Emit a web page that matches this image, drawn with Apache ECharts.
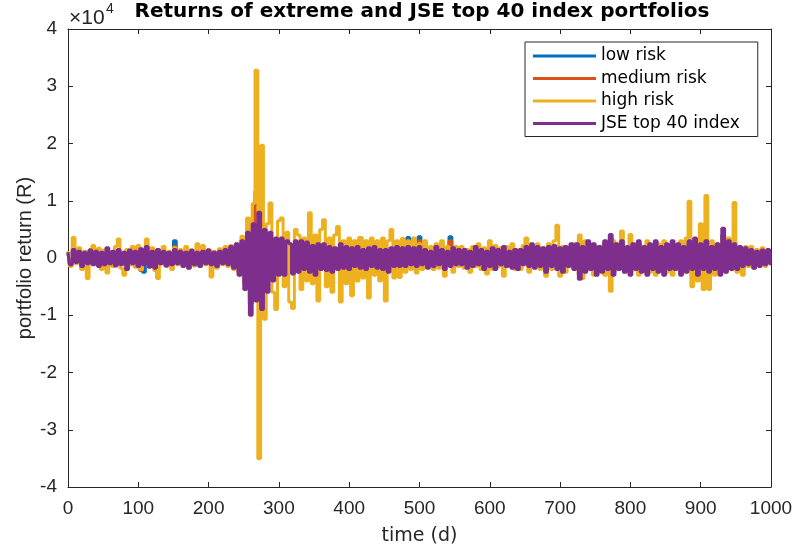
<!DOCTYPE html>
<html>
<head>
<meta charset="utf-8">
<script src="https://cdn.jsdelivr.net/npm/echarts@6/dist/echarts.min.js"></script>
<style>
html,body{margin:0;padding:0;background:#fff;}
#chart{width:799px;height:551px;}
</style>
</head>
<body>
<div id="chart"></div>
<script>
// Values are in units of 10^4 R (axis shows the x10^4 multiplier), sampled every STEP days.
const STEP = 4;
const seriesNames = ['low risk', 'medium risk', 'high risk', 'JSE top 40 index'];
const xTickValues = [0, 100, 200, 300, 400, 500, 600, 700, 800, 900, 1000];
const yTickValues = [-4, -3, -2, -1, 0, 1, 2, 3, 4];

const lowRisk = [
  0.08,-0.1,0.12,-0.06,0.1,-0.12,0.08,-0.08,0.1,-0.1,
  0.1,-0.12,0.08,-0.1,0.14,-0.08,0.1,-0.12,0.12,-0.1,
  0.08,-0.15,0.1,-0.08,0.1,-0.12,0.12,-0.25,0.15,-0.12,
  0.1,-0.15,0.12,-0.08,0.1,-0.12,0.08,-0.1,0.3,-0.08,
  0.1,-0.12,0.08,-0.15,0.12,-0.1,0.08,-0.12,0.1,-0.08,
  0.12,-0.1,0.08,-0.12,0.1,-0.08,0.12,-0.1,0.15,-0.15,
  0.2,-0.25,0.25,-0.45,0.47,-0.8,0.5,1.16,-0.66,0.4,
  -0.5,0.35,-0.3,0.3,-0.25,0.3,-0.2,0.25,-0.25,0.2,
  -0.22,0.25,-0.2,0.25,-0.15,0.22,-0.2,0.18,-0.25,0.2,
  -0.15,0.2,-0.18,0.15,-0.2,0.15,-0.15,0.2,-0.15,0.15,
  -0.15,0.15,-0.12,0.15,0.36,0.12,-0.15,0.15,-0.12,0.15,
  -0.15,0.12,-0.15,0.12,-0.2,0.15,-0.12,0.15,-0.12,0.15,
  -0.12,0.36,-0.1,0.15,-0.12,0.37,-0.1,0.12,-0.15,0.1,
  -0.12,0.15,-0.1,0.12,-0.15,0.1,0.37,0.15,-0.1,0.12,
  -0.1,0.12,-0.15,0.1,-0.12,0.15,-0.1,0.12,-0.15,0.1,
  -0.12,0.15,-0.15,0.12,-0.1,0.15,-0.12,0.1,-0.15,0.12,
  -0.15,0.12,-0.1,0.15,-0.12,0.2,-0.15,0.15,-0.12,0.15,
  -0.2,0.15,-0.12,0.18,-0.15,0.15,-0.2,0.15,-0.12,0.2,
  -0.15,0.2,-0.3,0.15,-0.2,0.25,-0.15,0.2,-0.25,0.15,
  -0.2,0.25,-0.15,0.35,-0.25,0.2,-0.15,0.25,-0.2,0.15,
  -0.25,0.2,-0.15,0.25,-0.2,0.15,-0.25,0.2,-0.15,0.25,
  -0.2,0.15,-0.25,0.2,-0.15,0.25,-0.15,0.2,-0.25,0.15,
  -0.2,0.25,-0.15,0.3,-0.25,0.2,-0.15,0.25,-0.2,0.15,
  -0.15,0.2,-0.25,0.4,-0.2,0.25,-0.15,0.2,-0.15,0.15,
  -0.12,0.15,-0.1,0.12,-0.15,0.1,-0.12,0.12,-0.1,0.12,-0.08
];

const mediumRisk = [
  0.1,-0.1,0.1,-0.08,0.1,-0.1,0.1,-0.1,0.12,-0.1,
  0.1,-0.12,0.1,-0.1,0.12,-0.1,0.1,-0.12,0.12,-0.1,
  0.1,-0.12,0.1,-0.1,0.1,-0.12,-0.22,0.1,0.15,-0.12,
  0.1,-0.15,0.1,-0.1,0.1,-0.12,0.1,-0.1,0.2,-0.1,
  0.1,-0.12,0.1,-0.12,0.1,-0.1,0.1,-0.12,0.1,-0.1,
  0.1,-0.1,0.1,-0.12,0.1,-0.1,0.1,-0.1,0.15,-0.15,
  0.2,-0.25,0.3,-0.4,0.4,-0.7,0.55,0.9,-0.6,0.4,
  -0.45,0.35,-0.3,0.3,-0.25,0.3,-0.2,0.25,-0.25,0.2,
  -0.2,0.25,-0.2,0.2,-0.15,0.2,-0.2,0.18,-0.2,0.2,
  -0.15,0.2,-0.15,0.15,-0.2,0.15,-0.15,0.2,-0.15,0.15,
  -0.15,0.15,-0.12,0.15,0.25,0.12,-0.15,0.15,-0.12,0.15,
  -0.12,0.12,-0.15,0.12,-0.15,0.15,-0.12,0.15,-0.12,0.12,
  -0.12,0.25,-0.1,0.12,-0.12,0.3,-0.1,0.12,-0.12,0.1,
  -0.1,0.12,-0.1,0.12,-0.12,0.1,0.3,0.12,-0.1,0.12,
  -0.1,0.12,-0.12,0.1,-0.12,0.12,-0.1,0.12,-0.12,0.1,
  -0.12,0.12,-0.15,0.12,-0.1,0.15,-0.12,0.1,-0.15,0.12,
  -0.15,0.12,-0.1,0.15,-0.12,0.18,-0.15,0.15,-0.12,0.15,
  -0.18,0.15,-0.12,0.15,-0.15,0.15,-0.18,0.15,-0.12,0.18,
  -0.15,0.18,-0.28,0.15,-0.18,0.22,-0.15,0.18,-0.22,0.15,
  -0.18,0.22,-0.15,0.3,-0.22,0.18,-0.15,0.22,-0.18,0.15,
  -0.22,0.18,-0.15,0.22,-0.18,0.15,-0.22,0.18,-0.15,0.22,
  -0.18,0.15,-0.22,0.18,-0.15,0.22,-0.15,0.18,-0.22,0.15,
  -0.18,0.22,-0.15,0.28,-0.22,0.18,-0.15,0.22,-0.18,0.15,
  -0.15,0.18,-0.22,0.35,-0.18,0.22,-0.15,0.18,-0.15,0.15,
  -0.12,0.12,-0.1,0.12,-0.12,0.1,-0.12,0.12,-0.1,0.12,-0.08
];

const highRisk = [
  0.12,-0.15,0.36,-0.1,0.18,-0.2,0.12,-0.36,0.15,0.22,
  -0.12,0.17,-0.2,0.14,-0.26,0.1,-0.15,0.2,0.33,-0.18,
  -0.3,0.15,-0.12,0.2,-0.16,0.22,-0.2,0.12,0.33,-0.15,
  0.18,-0.22,-0.36,0.14,0.2,-0.15,0.12,-0.2,0.18,-0.12,
  0.15,-0.1,0.2,-0.18,0.12,-0.14,0.25,-0.15,0.22,-0.12,
  0.15,-0.33,0.12,-0.18,0.16,-0.12,0.2,-0.15,0.22,-0.2,
  0.25,-0.3,0.38,-0.45,0.7,-0.6,0.95,3.28,-3.5,1.97,
  -1.07,0.6,0.96,-0.6,-0.9,0.65,0.7,-0.5,0.45,-0.77,
  -0.88,0.5,0.4,-0.55,0.35,-0.4,0.79,-0.45,0.4,-0.75,
  0.5,0.67,-0.5,0.35,-0.6,0.4,0.55,-0.77,0.3,-0.45,
  0.35,-0.66,0.3,-0.4,0.36,-0.35,0.3,-0.7,0.35,-0.3,
  0.3,-0.4,0.35,-0.75,0.3,0.5,-0.35,0.3,-0.34,0.34,
  -0.25,0.3,-0.2,0.35,-0.26,0.25,-0.2,0.3,-0.15,0.2,
  -0.2,0.25,-0.18,0.3,-0.32,0.2,0.15,-0.25,0.2,-0.15,
  0.2,-0.18,0.15,-0.25,0.2,-0.15,0.25,-0.2,0.18,-0.28,
  0.3,-0.2,0.22,-0.15,0.18,-0.32,0.2,-0.15,0.25,-0.2,
  0.15,-0.2,0.22,0.35,-0.25,0.2,-0.15,0.25,-0.2,0.18,
  -0.32,0.25,-0.2,0.3,0.57,-0.32,0.2,-0.25,0.18,-0.15,
  0.25,-0.2,0.4,-0.36,0.3,-0.2,0.25,-0.3,0.2,-0.25,
  0.2,-0.3,0.25,-0.58,0.3,-0.2,0.25,0.47,-0.25,0.2,
  0.41,-0.2,0.25,-0.3,0.2,-0.2,0.3,-0.25,0.2,-0.3,
  0.25,-0.2,0.3,-0.25,0.2,-0.3,0.22,-0.2,0.3,-0.25,
  0.35,0.99,-0.5,0.3,-0.4,0.6,-0.55,1.09,-0.55,0.3,
  -0.3,0.25,-0.2,0.3,-0.25,0.35,-0.2,0.97,-0.25,0.2,
  -0.3,0.2,-0.15,0.2,-0.18,0.15,-0.12,0.18,-0.15,0.12,-0.1
];

const jseTop40 = [
  0.1,-0.12,0.15,-0.08,0.12,-0.15,0.1,-0.1,0.14,-0.12,
  0.12,-0.15,0.1,-0.12,0.18,-0.1,0.12,-0.14,0.15,-0.12,
  0.1,-0.2,0.14,-0.1,0.12,-0.15,0.16,-0.12,0.2,-0.16,
  0.12,-0.18,0.15,-0.1,0.12,-0.14,0.1,-0.12,0.15,-0.1,
  0.12,-0.15,0.1,-0.18,0.14,-0.12,0.1,-0.15,0.12,-0.1,
  0.14,-0.12,0.1,-0.15,0.12,-0.1,0.15,-0.12,0.2,-0.18,
  0.25,-0.3,0.3,-0.55,0.45,-1.0,0.6,-0.75,0.8,-0.9,
  0.5,-0.6,0.45,-0.4,0.35,-0.3,0.35,-0.3,0.3,0.25,
  -0.28,0.3,-0.25,0.3,-0.2,0.28,-0.25,0.22,-0.3,0.25,
  -0.2,0.25,-0.22,0.2,-0.25,0.18,-0.2,0.25,-0.18,0.2,
  -0.2,0.18,-0.15,0.2,-0.18,0.15,-0.2,0.18,-0.15,0.2,
  -0.18,0.15,-0.2,0.15,-0.25,0.18,-0.15,0.2,-0.15,0.18,
  -0.15,0.2,-0.12,0.18,-0.15,0.2,-0.12,0.15,-0.18,0.12,
  -0.15,0.2,-0.12,0.15,-0.2,0.12,-0.15,0.18,-0.12,0.15,
  -0.12,0.15,-0.18,0.12,-0.15,0.2,-0.12,0.15,-0.2,0.12,
  -0.15,0.18,-0.2,0.15,-0.12,0.2,-0.15,0.12,-0.18,0.15,
  -0.2,0.15,-0.12,0.2,-0.15,0.25,-0.18,0.2,-0.15,0.18,
  -0.25,0.2,-0.15,0.22,-0.2,0.18,-0.25,0.2,-0.15,0.25,
  -0.2,0.25,-0.37,0.2,-0.25,0.3,-0.2,0.25,-0.3,0.2,
  -0.25,0.3,-0.2,0.41,-0.3,0.25,-0.2,0.3,-0.25,0.2,
  -0.3,0.25,-0.2,0.3,-0.25,0.2,-0.3,0.25,-0.2,0.3,
  -0.25,0.2,-0.3,0.25,-0.2,0.3,-0.2,0.25,-0.3,0.2,
  -0.25,0.3,-0.2,0.35,-0.3,0.25,-0.2,0.3,-0.25,0.2,
  -0.2,0.25,-0.3,0.52,-0.25,0.3,-0.2,0.25,-0.2,0.2,
  -0.15,0.18,-0.12,0.15,-0.18,0.12,-0.15,0.14,-0.12,0.15,-0.1
];

const colors = ['#0072BD', '#D95319', '#EDB120', '#7E2F8E'];
const allValues = [lowRisk, mediumRisk, highRisk, jseTop40];

function toPairs(arr) {
  return arr.map(function (v, i) { return [i * STEP, v]; });
}

const axisColor = '#262626';
const baseFont = 'Liberation Sans, Arial, Helvetica, sans-serif';
const wideFont = 'DejaVu Sans, sans-serif';

function makeX(pos, showLabels) {
  return {
    type: 'value', position: pos, min: xTickValues[0], max: xTickValues[xTickValues.length - 1],
    interval: 100,
    axisLine: { show: true, onZero: false, lineStyle: { color: axisColor, width: 1 } },
    axisTick: { show: true, inside: true, length: 5, lineStyle: { color: axisColor } },
    axisLabel: { show: showLabels, color: axisColor, fontSize: 19, fontFamily: baseFont, margin: 12,
      formatter: function (v) { return String(v); } },
    splitLine: { show: false },
    name: showLabels ? 'time (d)' : '',
    nameLocation: 'middle', nameGap: 40, nameMoveOverlap: false,
    nameTextStyle: { color: axisColor, fontSize: 19, fontFamily: wideFont }
  };
}
function makeY(pos, showLabels) {
  return {
    type: 'value', position: pos, min: yTickValues[0], max: yTickValues[yTickValues.length - 1],
    interval: 1,
    axisLine: { show: true, onZero: false, lineStyle: { color: axisColor, width: 1 } },
    axisTick: { show: true, inside: true, length: 5, lineStyle: { color: axisColor } },
    axisLabel: { show: showLabels, color: axisColor, fontSize: 19, fontFamily: baseFont, margin: 11,
      formatter: function (v) { return String(v); } },
    splitLine: { show: false },
    name: showLabels ? 'portfolio return (R)' : '',
    nameLocation: 'middle', nameGap: 33, nameMoveOverlap: false,
    nameTextStyle: { color: axisColor, fontSize: 20, fontFamily: baseFont }
  };
}

const chart = echarts.init(document.getElementById('chart'), null, { renderer: 'canvas' });
chart.setOption({
  animation: false,
  backgroundColor: '#fff',
  title: {
    text: 'Returns of extreme and JSE top 40 index portfolios',
    left: 422, top: 2, textAlign: 'center', padding: 0,
    textStyle: { color: '#000', fontSize: 20, fontWeight: 'bold', fontFamily: wideFont }
  },
  grid: { left: 68, right: 28, top: 29, bottom: 63, containLabel: false },
  xAxis: [makeX('bottom', true), makeX('top', false)],
  yAxis: [makeY('left', true), makeY('right', false)],
  legend: {
    orient: 'vertical', left: 525, top: 42,
    data: seriesNames,
    icon: 'rect', itemWidth: 63, itemHeight: 3, itemGap: 4.5,
    padding: [5, 18, 4, 8],
    borderColor: axisColor, borderWidth: 1, backgroundColor: '#fff',
    textStyle: { color: '#000', fontSize: 17, fontFamily: wideFont, lineHeight: 18 }
  },
  graphic: [
    { type: 'text', left: 69, top: 8, style: { text: '\u00d710', fontSize: 21, fontFamily: baseFont, fill: axisColor } },
    { type: 'text', left: 106, top: 2, style: { text: '4', fontSize: 14, fontFamily: baseFont, fill: axisColor } }
  ],
  series: seriesNames.map(function (name, k) {
    return {
      name: name, type: 'line', data: toPairs(allValues[k]),
      step: 'middle',
      showSymbol: false, symbol: 'none', sampling: null,
      lineStyle: { color: colors[k], width: 3 },
      itemStyle: { color: colors[k] },
      emphasis: { disabled: true }, z: 2 + k
    };
  })
});
</script>
</body>
</html>
